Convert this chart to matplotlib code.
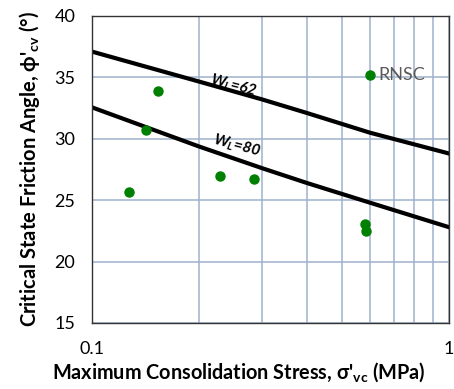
import matplotlib.pyplot as plt
import matplotlib.ticker as mticker

plt.rcParams['font.family'] = ['Lato', 'DejaVu Sans']
plt.rcParams['mathtext.fontset'] = 'custom'
plt.rcParams['mathtext.rm'] = 'Lato'
plt.rcParams['mathtext.bf'] = 'Lato:bold'
plt.rcParams['mathtext.it'] = 'Lato:bold:italic'

# test data
stress = [0.127, 0.142, 0.153, 0.229, 0.284, 0.582, 0.587, 0.602]
phi_cv = [25.7, 30.7, 33.9, 27.0, 26.7, 23.1, 22.5, 35.2]

# correlation lines for two liquid limits
line_x = [0.1, 0.2, 0.3, 0.4, 0.6, 1.0]
wl62_y = [37.1, 34.65, 33.2, 32.1, 30.5, 28.8]
wl80_y = [32.56, 29.36, 27.6, 26.4, 24.8, 22.8]

fig = plt.figure(figsize=(4.54, 3.89), dpi=100)
ax = fig.add_axes([0.2026, 0.1697, 0.7864, 0.7892])

ax.set_xscale('log')
ax.set_xlim(0.1, 1)
ax.set_ylim(15, 40)

ax.xaxis.set_major_locator(mticker.FixedLocator([0.1, 1]))
ax.xaxis.set_major_formatter(mticker.FixedFormatter(['0.1', '1']))
ax.xaxis.set_minor_locator(mticker.FixedLocator([0.2, 0.3, 0.4, 0.5, 0.6, 0.7, 0.8, 0.9]))
ax.xaxis.set_minor_formatter(mticker.NullFormatter())
ax.set_yticks([15, 20, 25, 30, 35, 40])

ax.grid(True, which='both', axis='x', color='#9EB1CD', lw=1.1)
ax.grid(True, which='major', axis='y', color='#9EB1CD', lw=1.1)
ax.set_axisbelow(True)
ax.tick_params(which='both', length=0)
ax.tick_params(axis='x', pad=13, labelsize=13)
ax.tick_params(axis='y', pad=12, labelsize=13)

for s in ax.spines.values():
    s.set_color('#333333')
    s.set_linewidth(1)

ax.plot(line_x, wl62_y, color='black', lw=3)
ax.plot(line_x, wl80_y, color='black', lw=3)
ax.plot(stress, phi_cv, 'o', color='#008000', ms=6.5, ls='none')

ax.text(0.248, 34.35, 'W$_{\\mathit{L}}$=62', fontsize=11, fontweight='bold', style='italic',
        rotation=-15, ha='center', va='center')
ax.text(0.255, 29.45, 'W$_{\\mathit{L}}$=80', fontsize=11, fontweight='bold', style='italic',
        rotation=-15, ha='center', va='center')
ax.text(0.635, 35.2, 'RNSC', fontsize=13, color='#595959', ha='left', va='center')

ax.set_xlabel("Maximum Consolidation Stress, \u03c3'$_{\\mathbf{vc}}$ (MPa)",
              fontsize=14.3, fontweight='bold')
ax.xaxis.set_label_coords(0.412, -0.123)
ax.set_ylabel("Critical State Friction Angle, \u03d5'$_{\\mathbf{cv}}$ (\u00b0)",
              fontsize=14.5, fontweight='bold', labelpad=9)

fig.savefig('out.png', dpi=100)
